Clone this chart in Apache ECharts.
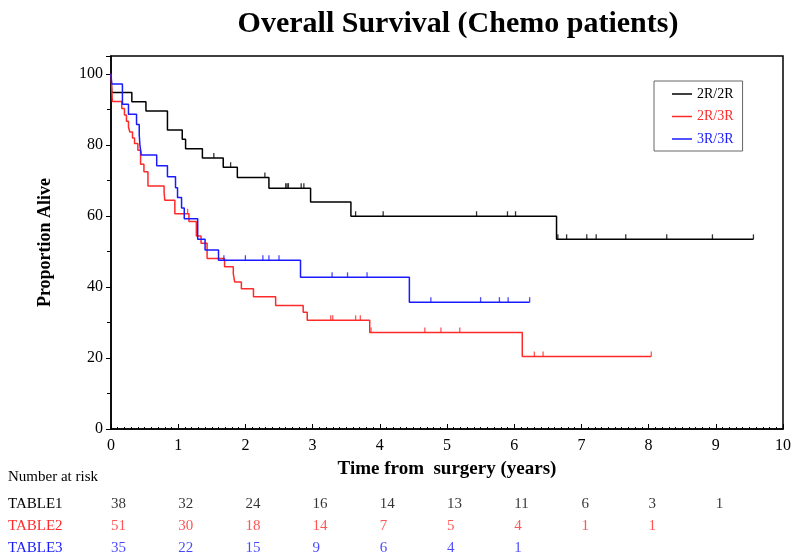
<!DOCTYPE html>
<html>
<head>
<meta charset="utf-8">
<script src="https://cdn.jsdelivr.net/npm/echarts@6/dist/echarts.min.js"></script>
<style>
  html, body { margin: 0; padding: 0; background: #fff; }
  #main { width: 800px; height: 560px; }
</style>
</head>
<body>
<div id="main"></div>
<script>
// survival steps (years, % alive)
var times1 = [0, 0.01, 0.31, 0.52, 0.84, 1.06, 1.11, 1.36, 1.67, 1.88, 2.35, 2.97, 3.57, 6.63, 9.56];
var surv1 = [100, 94.7, 92.1, 89.5, 84.2, 81.6, 78.9, 76.3, 73.7, 70.8, 67.8, 63.9, 59.9, 53.4, 53.4];
var censor1 = [1.53, 1.78, 2.29, 2.60, 2.62, 2.64, 2.83, 2.87, 3.64, 4.05, 5.44, 5.90, 6.02, 6.65, 6.78, 7.08, 7.22, 7.66, 8.27, 8.95, 9.56];

var times2 = [0, 0.02, 0.16, 0.20, 0.23, 0.26, 0.28, 0.32, 0.35, 0.40, 0.44, 0.49, 0.55, 0.79, 0.80, 0.95, 1.16, 1.27, 1.34, 1.43, 1.69, 1.82, 1.84, 1.94, 2.12, 2.45, 2.86, 2.92, 3.85, 6.12, 8.04];
var surv2 = [100, 92.2, 90.2, 88.4, 86.6, 85.0, 83.6, 81.9, 80.4, 78.5, 74.5, 72.4, 68.4, 66.6, 64.4, 60.6, 58.4, 54.3, 52.3, 48.0, 45.7, 43.7, 41.4, 39.5, 37.2, 34.8, 32.9, 30.6, 27.2, 20.4, 20.4];
var censor2 = [1.14, 3.27, 3.30, 3.64, 3.71, 3.87, 4.67, 4.91, 5.19, 6.30, 6.43, 8.04];

var times3 = [0, 0.01, 0.17, 0.26, 0.38, 0.42, 0.43, 0.45, 0.68, 0.84, 0.96, 0.99, 1.05, 1.09, 1.29, 1.40, 1.60, 2.82, 4.44, 6.23];
var surv3 = [100, 97.1, 91.4, 88.6, 85.7, 82.9, 80.0, 77.1, 74.1, 71.0, 67.9, 65.2, 62.2, 59.2, 53.4, 50.4, 47.5, 42.7, 35.7, 35.7];
var censor3 = [1.68, 2.00, 2.26, 2.35, 2.50, 3.29, 3.52, 3.81, 4.76, 5.50, 5.78, 5.91, 6.23];

var groupNames = ['2R/2R', '2R/3R', '3R/3R'];
var groupColors = ['#000000', '#ff2a2a', '#1a1aff'];

// number at risk table
var riskRows = ['TABLE1', 'TABLE2', 'TABLE3'];
var riskYears = [0, 1, 2, 3, 4, 5, 6, 7, 8, 9];
var risk1 = [38, 32, 24, 16, 14, 13, 11, 6, 3, 1];
var risk2 = [51, 30, 18, 14, 7, 5, 4, 1, 1];
var risk3 = [35, 22, 15, 9, 6, 4, 1];

var xTicks = [0, 1, 2, 3, 4, 5, 6, 7, 8, 9, 10];
var yTicks = [0, 20, 40, 60, 80, 100];

var serif = 'Liberation Serif';

function pairs(t, s) {
    return t.map(function (x, i) { return [x, s[i]]; });
}
function survAt(t, s, x) {
    var v = s[0];
    for (var i = 0; i < t.length; i++) {
        if (t[i] <= x) v = s[i];
    }
    return v;
}
function censorPts(c, t, s) {
    return c.map(function (x) { return [x, survAt(t, s, x)]; });
}

var myChart = echarts.init(document.getElementById('main'));

var curves = [[times1, surv1, censor1], [times2, surv2, censor2], [times3, surv3, censor3]];
var series = [];
curves.forEach(function (c, i) {
    series.push({
        name: groupNames[i],
        type: 'line',
        step: 'end',
        symbol: 'none',
        data: pairs(c[0], c[1]),
        lineStyle: { color: groupColors[i], width: 1.5 },
        itemStyle: { color: groupColors[i] },
        z: 3 + i
    });
    series.push({
        name: groupNames[i] + ' censored',
        type: 'scatter',
        symbol: 'rect',
        symbolSize: [1.3, 5],
        symbolOffset: [0, -2.5],
        data: censorPts(c[2], c[0], c[1]),
        itemStyle: { color: groupColors[i] },
        silent: true,
        z: 3 + i
    });
});

[risk1, risk2, risk3].forEach(function (r, i) {
    series.push({
        name: riskRows[i],
        type: 'scatter',
        xAxisIndex: 1,
        yAxisIndex: 1,
        symbolSize: 0,
        data: r.map(function (n, k) { return [riskYears[k], riskRows[i], n]; }),
        label: {
            show: true,
            position: 'right',
            distance: 0,
            formatter: function (p) { return p.value[2]; },
            color: groupColors[i],
            fontFamily: serif,
            fontSize: 15
        },
        silent: true
    });
});

var option = {
    backgroundColor: '#fff',
    animation: false,
    title: {
        text: 'Overall Survival (Chemo patients)',
        left: 453,
        textAlign: 'center',
        top: 4,
        textStyle: { fontFamily: serif, fontSize: 30, fontWeight: 'bold', color: '#000' }
    },
    legend: {
        orient: 'vertical',
        left: 654,
        top: 81,
        padding: [6, 9, 5, 18],
        itemGap: 8.5,
        itemWidth: 20,
        itemHeight: 1.5,
        icon: 'rect',
        borderColor: '#666',
        borderWidth: 1,
        data: groupNames.map(function (n, i) {
            return { name: n, textStyle: { color: groupColors[i] } };
        }),
        textStyle: { fontFamily: serif, fontSize: 14 }
    },
    graphic: [{
        type: 'text',
        left: 8,
        top: 470,
        style: { text: 'Number at risk', font: '15px "Liberation Serif"', fill: '#000' }
    }],
    grid: [
        { left: 111, right: 17, top: 56, bottom: 131, show: true, borderColor: '#000', borderWidth: 1.5 },
        { left: 111, right: 17, top: 493, height: 66 }
    ],
    xAxis: [{
        type: 'value',
        min: 0,
        max: 10,
        interval: 1,
        name: 'Time from  surgery (years)',
        nameLocation: 'middle',
        nameGap: 31,
        nameTextStyle: { fontFamily: serif, fontSize: 19, fontWeight: 'bold', color: '#000' },
        axisLine: { lineStyle: { color: '#000', width: 1.5 } },
        axisTick: { inside: true, length: 5, lineStyle: { color: '#000' } },
        minorTick: { show: true, splitNumber: 10, length: 2, lineStyle: { color: '#000' } },
        splitLine: { show: false },
        axisLabel: {
            fontFamily: serif, fontSize: 16, color: '#000', margin: 9,
            formatter: function (v) { return xTicks.indexOf(v) >= 0 ? v : ''; }
        }
    }, {
        type: 'value',
        gridIndex: 1,
        min: 0,
        max: 10,
        show: false
    }],
    yAxis: [{
        type: 'value',
        min: 0,
        max: 105,
        interval: 20,
        name: 'Proportion Alive',
        nameLocation: 'middle',
        nameRotate: 90,
        nameGap: 57,
        nameTextStyle: { fontFamily: serif, fontSize: 18, fontWeight: 'bold', color: '#000' },
        axisLine: { lineStyle: { color: '#000', width: 1.5 } },
        axisTick: { length: 5, lineStyle: { color: '#000' } },
        minorTick: { show: true, splitNumber: 2, length: 4, lineStyle: { color: '#000' } },
        splitLine: { show: false },
        axisLabel: {
            fontFamily: serif, fontSize: 16, color: '#000', margin: 8, showMaxLabel: false,
            formatter: function (v) { return yTicks.indexOf(v) >= 0 ? v : ''; }
        }
    }, {
        type: 'category',
        gridIndex: 1,
        inverse: true,
        data: riskRows,
        axisLine: { show: false },
        axisTick: { show: false },
        splitLine: { show: false },
        axisLabel: {
            margin: 103,
            align: 'left',
            fontFamily: serif,
            fontSize: 15,
            color: function (v, i) { return groupColors[riskRows.indexOf(v)]; }
        }
    }],
    series: series
};

myChart.setOption(option);
</script>
</body>
</html>
